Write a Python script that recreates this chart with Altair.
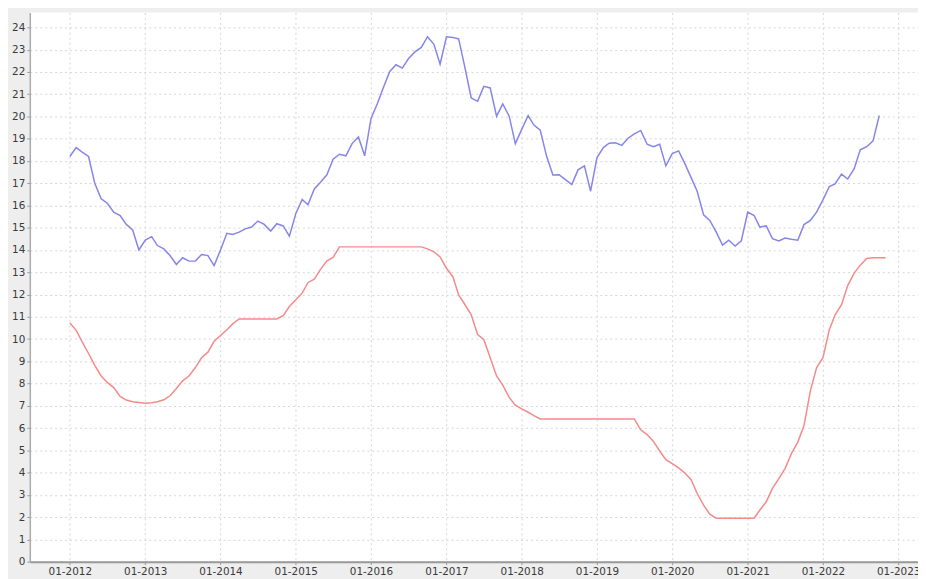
import altair as alt
import pandas as pd

blue_values = [
    18.2, 18.6, 18.4, 18.2, 17.0, 16.3, 16.1, 15.7, 15.55, 15.15, 14.9, 14.0,
    14.45, 14.6, 14.2, 14.05, 13.75, 13.35, 13.65, 13.5, 13.5, 13.8, 13.75, 13.3,
    14.0, 14.75, 14.7, 14.8, 14.95, 15.03, 15.3, 15.15, 14.85, 15.18, 15.08, 14.62,
    15.63, 16.27, 16.03, 16.74, 17.04, 17.38, 18.08, 18.3, 18.23, 18.78, 19.08, 18.23,
    19.91, 20.58, 21.3, 22.02, 22.32, 22.17, 22.6, 22.9, 23.1, 23.58, 23.24, 22.35,
    23.58, 23.55, 23.48, 22.17, 20.83, 20.68, 21.35, 21.28, 20.01, 20.56, 20.01, 18.78,
    19.42, 20.04, 19.61, 19.38, 18.23, 17.37, 17.38, 17.16, 16.94, 17.6, 17.78, 16.64,
    18.15, 18.6, 18.8, 18.82, 18.7, 19.02, 19.22, 19.37, 18.75, 18.64, 18.75, 17.78,
    18.33, 18.45, 17.9, 17.26, 16.64, 15.58, 15.33, 14.81, 14.22, 14.44, 14.18, 14.41,
    15.7, 15.55, 15.03, 15.08, 14.51, 14.41, 14.54, 14.48, 14.44, 15.14, 15.33, 15.7,
    16.25, 16.85, 16.97, 17.41, 17.19, 17.64, 18.5, 18.64, 18.9, 20.04,
]

red_values = [
    10.72, 10.39, 9.87, 9.35, 8.82, 8.34, 8.05, 7.82, 7.42, 7.26, 7.18, 7.15,
    7.12, 7.14, 7.18, 7.27, 7.45, 7.78, 8.12, 8.34, 8.72, 9.16, 9.41, 9.9,
    10.16, 10.42, 10.68, 10.9, 10.9, 10.9, 10.9, 10.9, 10.9, 10.9, 11.05, 11.46,
    11.76, 12.06, 12.53, 12.69, 13.13, 13.51, 13.67, 14.14, 14.14, 14.14, 14.14, 14.14,
    14.14, 14.14, 14.14, 14.14, 14.14, 14.14, 14.14, 14.14, 14.14, 14.05, 13.92, 13.69,
    13.18, 12.8, 11.98, 11.54, 11.09, 10.2, 9.98, 9.16, 8.34, 7.93, 7.38, 7.03,
    6.86, 6.71, 6.56, 6.41, 6.41, 6.41, 6.41, 6.41, 6.41, 6.41, 6.41, 6.41,
    6.41, 6.41, 6.41, 6.41, 6.41, 6.41, 6.41, 5.92, 5.71, 5.41, 4.97, 4.58,
    4.4, 4.21, 3.99, 3.69, 3.06, 2.54, 2.13, 1.95, 1.95, 1.95, 1.95, 1.95,
    1.95, 1.95, 2.32, 2.69, 3.29, 3.73, 4.18, 4.85, 5.37, 6.11, 7.67, 8.71,
    9.16, 10.42, 11.09, 11.54, 12.4, 12.95, 13.32, 13.62, 13.65, 13.65, 13.65,
]

blue_dates = pd.date_range("2012-01-01", periods=len(blue_values), freq="MS").strftime("%Y-%m-%d").tolist()
red_dates = pd.date_range("2012-01-01", periods=len(red_values), freq="MS").strftime("%Y-%m-%d").tolist()

df = pd.concat([
    pd.DataFrame({"date": blue_dates, "value": blue_values, "series": "blue"}),
    pd.DataFrame({"date": red_dates, "value": red_values, "series": "red"}),
])

year_ticks = [alt.DateTime(year=y, month=1, date=1, utc=True) for y in range(2012, 2024)]

chart = alt.Chart(df).mark_line(strokeWidth=1.5, clip=True).encode(
    x=alt.X("date:T", title=None,
            scale=alt.Scale(type="utc",
                            domain=[alt.DateTime(year=2011, month=6, date=21, utc=True),
                                    alt.DateTime(year=2023, month=4, date=7, utc=True)],
                            nice=False),
            axis=alt.Axis(format="%m-%Y", values=year_ticks, labelFlush=False,
                          domainColor="#999999", domainWidth=2, tickColor="#999999",
                          tickSize=3, labelPadding=2)),
    y=alt.Y("value:Q", title=None,
            scale=alt.Scale(domain=[0, 24.67], nice=False, zero=False),
            axis=alt.Axis(values=list(range(0, 25)), domainColor="#aaaaaa", domainWidth=1.5,
                          tickColor="#999999", tickSize=3, labelPadding=2)),
    color=alt.Color("series:N", legend=None,
                    scale=alt.Scale(domain=["blue", "red"], range=["#8585ea", "#f58a8a"])),
).properties(
    width=896, height=554,
    autosize=alt.AutoSizeParams(type="none"),
    padding={"left": 22, "top": 2, "right": 0, "bottom": 15},
    background="#eeeeee",
).configure_view(
    fill="white", strokeWidth=0,
).configure_axis(
    gridColor="#d6d6d6", gridDash=[2, 3], gridWidth=1,
    labelFont="DejaVu Sans", labelFontSize=10.5, labelColor="#3a3a3a",
)

chart.save("out.html", embed_options={"renderer": "svg", "actions": False})
